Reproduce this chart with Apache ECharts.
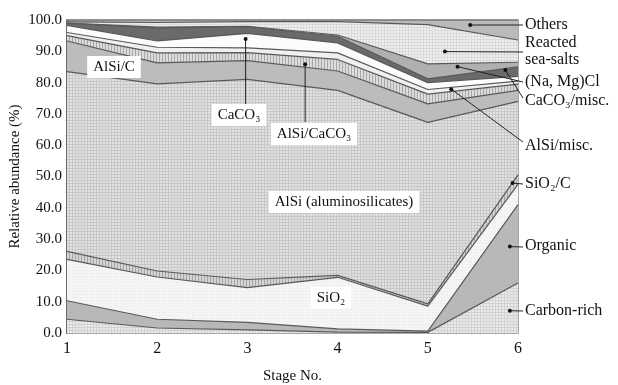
<!DOCTYPE html>
<html>
<head>
<meta charset="utf-8">
<script src="https://cdn.jsdelivr.net/npm/echarts@6/dist/echarts.min.js"></script>
<style>
  html, body { margin: 0; padding: 0; background: #fff; }
  #chart { width: 618px; height: 385px; }
</style>
</head>
<body>
<div id="chart"></div>
<script>
// stage numbers on the x axis
const stages = ['1', '2', '3', '4', '5', '6'];
const yTicks = [0, 10, 20, 30, 40, 50, 60, 70, 80, 90, 100];

// band thickness (%) per stage, bottom to top
const carbonRich = [4.4, 1.6, 1.0, 0.3, 0.2, 16.0];
const organic    = [5.9, 2.8, 2.4, 1.0, 0.4, 25.0];
const sio2       = [13.2, 13.5, 11.1, 16.5, 8.0, 6.5];
const sio2C      = [2.6, 1.9, 2.6, 0.6, 0.7, 3.0];
const alsi       = [57.4, 59.8, 63.9, 59.1, 58.0, 23.5];
const alsiC      = [9.8, 6.7, 6.0, 6.2, 5.9, 3.5];
const alsiCaco3  = [1.7, 3.2, 2.6, 3.7, 3.1, 2.0];
const caco3      = [1.0, 1.8, 1.5, 2.1, 1.5, 1.0];
const alsiMisc   = [2.3, 2.0, 4.6, 3.2, 2.2, 1.5];
const caco3Misc  = [0.6, 4.2, 2.1, 2.1, 1.2, 3.0];
const naMgCl     = [0.1, 0.2, 0.2, 0.4, 4.8, 1.5];
const seaSalts   = [0.4, 1.5, 1.5, 4.3, 12.5, 7.1];
const others     = [0.6, 0.8, 0.5, 0.5, 1.5, 6.4];

// where the label pointers touch the bands: [stage, %]
const tipOthers    = [5.47, 98.4];
const tipSeaSalts  = [5.19, 89.9];
const tipNaMgCl    = [5.33, 85.1];
const tipCaco3Misc = [5.86, 84.0];
const tipAlsiMisc  = [5.26, 77.9];
const tipSio2C     = [5.94, 47.9];
const tipOrganic   = [5.91, 27.6];
const tipCarbon    = [5.91, 7.1];
const tipCaco3     = [2.98, 93.9];
const tipAlsiCaco3 = [3.64, 85.9];

const FONT = '"Liberation Serif", "DejaVu Serif", serif';

// small tiled fills to imitate the print hatching
function pattern(bg, fg, kind) {
  const c = document.createElement('canvas');
  c.width = 3; c.height = 3;
  const g = c.getContext('2d');
  g.fillStyle = bg;
  g.fillRect(0, 0, 3, 3);
  g.fillStyle = fg;
  if (kind === 'grid') { g.fillRect(0, 0, 3, 1); g.fillRect(0, 0, 1, 3); }
  if (kind === 'vert') { g.fillRect(0, 0, 1, 3); }
  if (kind === 'dots') { g.fillRect(0, 0, 1, 1); }
  return { image: c, repeat: 'repeat' };
}

const layers = [
  { name: 'Carbon-rich', data: carbonRich, fill: pattern('#ebebeb', '#d2d2d2', 'grid') },
  { name: 'Organic', data: organic, fill: '#b8b8b8' },
  { name: 'SiO2', data: sio2, fill: pattern('#f5f5f5', '#e6e6e6', 'dots') },
  { name: 'SiO2/C', data: sio2C, fill: pattern('#d4d4d4', '#a6a6a6', 'vert') },
  { name: 'AlSi', data: alsi, fill: pattern('#e2e2e2', '#c8c8c8', 'grid') },
  { name: 'AlSi/C', data: alsiC, fill: '#bcbcbc' },
  { name: 'AlSi/CaCO3', data: alsiCaco3, fill: pattern('#dcdcdc', '#a8a8a8', 'vert') },
  { name: 'CaCO3', data: caco3, fill: '#f0f0f0' },
  { name: 'AlSi/misc.', data: alsiMisc, fill: '#fcfcfc' },
  { name: 'CaCO3/misc.', data: caco3Misc, fill: '#6a6a6a' },
  { name: '(Na, Mg)Cl', data: naMgCl, fill: '#b0b0b0' },
  { name: 'Reacted sea-salts', data: seaSalts, fill: pattern('#f0f0f0', '#dadada', 'grid') },
  { name: 'Others', data: others, fill: '#bababa' }
];

const series = layers.map(l => ({
  name: l.name,
  type: 'line',
  stack: 'all',
  symbol: 'none',
  silent: true,
  data: l.data,
  lineStyle: { color: '#595959', width: 1.2 },
  areaStyle: { color: l.fill, opacity: 1 }
}));

const chart = echarts.init(document.getElementById('chart'));
chart.setOption({
  animation: false,
  grid: {
    left: 67, right: 100, top: 20, bottom: 52,
    outerBoundsMode: 'none', containLabel: false,
    show: true, borderColor: '#8c8c8c', borderWidth: 1.5, backgroundColor: '#fff'
  },
  xAxis: [{
    type: 'category', data: stages, boundaryGap: false,
    name: 'Stage No.', nameLocation: 'middle', nameGap: 36, nameMoveOverlap: false,
    nameTextStyle: { fontFamily: FONT, fontSize: 15, color: '#111' },
    axisLine: { show: false }, axisTick: { show: false }, splitLine: { show: false },
    axisLabel: { fontFamily: FONT, fontSize: 16, color: '#111', margin: 8 }
  }, {
    // hidden twin axis, only used to place the pointer tips between stages
    type: 'value', min: 1, max: 6, show: false
  }],
  yAxis: {
    type: 'value', min: 0, max: 100, interval: 10,
    name: 'Relative abundance (%)', nameLocation: 'middle', nameGap: 44, nameRotate: 90,
    nameMoveOverlap: false,
    nameTextStyle: { fontFamily: FONT, fontSize: 15, color: '#111' },
    axisLine: { show: true, lineStyle: { color: '#555', width: 1.5 } },
    axisTick: { show: false }, splitLine: { show: false },
    axisLabel: {
      fontFamily: FONT, fontSize: 15, color: '#111', margin: 5,
      formatter: v => (yTicks.indexOf(v) >= 0 ? v.toFixed(1) : '')
    }
  },
  series: series
});

// annotations: label text, pointer lines and dots
const px = p => chart.convertToPixel({ xAxisIndex: 1, yAxisIndex: 0 }, p);
const g = [];
function text(x, y, t, opts) {
  g.push({
    type: 'text', z: 100,
    style: Object.assign({
      x: x, y: y, text: t, font: '16px ' + FONT, fill: '#111',
      align: 'left', verticalAlign: 'middle'
    }, opts || {})
  });
}
function pointer(from, tip) {
  const t = px(tip);
  g.push({ type: 'line', z: 99, shape: { x1: from[0], y1: from[1], x2: t[0], y2: t[1] },
           style: { stroke: '#222', lineWidth: 1 } });
  g.push({ type: 'circle', z: 99, shape: { cx: t[0], cy: t[1], r: 2 }, style: { fill: '#111' } });
}

// right side labels
text(525, 25, 'Others');
text(525, 43, 'Reacted');
text(525, 60, 'sea-salts');
text(525, 82, '(Na, Mg)Cl');
text(525, 101, 'CaCO₃/misc.');
text(525, 146, 'AlSi/misc.');
text(525, 184, 'SiO₂/C');
text(525, 246, 'Organic');
text(525, 311, 'Carbon-rich');
pointer([523, 25], tipOthers);
pointer([523, 52], tipSeaSalts);
pointer([523, 82], tipNaMgCl);
pointer([523, 98], tipCaco3Misc);
pointer([523, 142], tipAlsiMisc);
pointer([523, 184], tipSio2C);
pointer([523, 247], tipOrganic);
pointer([523, 311], tipCarbon);

// boxed labels inside the plot
const box = { backgroundColor: '#fff', padding: [4, 6, 3, 6], align: 'center', font: '15px ' + FONT };
pointer([px(tipCaco3)[0], 104], tipCaco3);
pointer([px(tipAlsiCaco3)[0], 122], tipAlsiCaco3);
text(114, 67, 'AlSi/C', box);
text(239, 115, 'CaCO₃', box);
text(314, 134, 'AlSi/CaCO₃', box);
text(344, 202, 'AlSi (aluminosilicates)', box);
text(331, 298, 'SiO₂', box);

chart.setOption({ graphic: g });
</script>
</body>
</html>
